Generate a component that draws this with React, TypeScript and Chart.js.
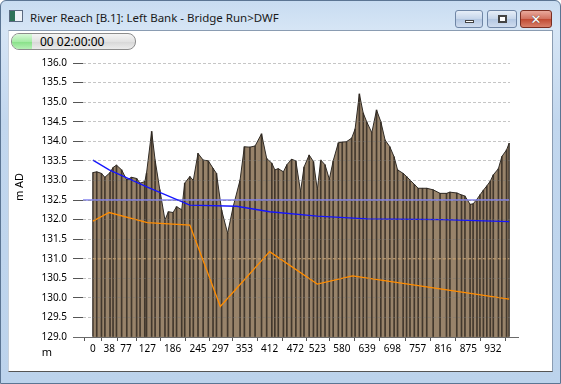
import React, { useEffect, useRef } from 'react';
import { Chart, registerables } from 'chart.js';
Chart.register(...registerables);

// Ground profile (chainage m, level m AD)
const profileChainage = [0, 9, 20, 28, 40, 47, 55, 67, 79, 90, 102, 110, 121, 125, 137, 145, 156, 168, 176, 187, 195, 207, 214, 226, 234, 245, 257, 269, 280, 288, 300, 314, 327, 343, 353, 366, 378, 393, 405, 417, 424, 432, 444, 452, 463, 473, 484, 492, 504, 514, 523, 531, 541, 551, 560, 572, 581, 591, 603, 611, 621, 630, 638, 650, 661, 671, 681, 692, 702, 710, 723, 731, 739, 749, 758, 768, 778, 793, 809, 824, 832, 848, 859, 867, 879, 886, 895, 902, 910, 918, 926, 933, 945, 953, 964, 970];
const profileLevel = [133.2, 133.22, 133.18, 133.08, 133.2, 133.33, 133.39, 133.27, 133.01, 133.08, 133.05, 132.93, 132.97, 133.18, 134.25, 133.52, 132.76, 131.99, 132.2, 132.18, 132.33, 132.25, 132.93, 133.1, 133.0, 133.69, 133.52, 133.5, 133.31, 133.18, 132.24, 131.65, 132.33, 133.01, 133.86, 133.85, 133.88, 134.19, 133.56, 133.44, 133.27, 133.3, 133.22, 133.4, 133.54, 133.5, 132.71, 133.34, 133.65, 133.48, 132.76, 133.52, 133.4, 133.03, 133.5, 133.96, 133.98, 133.99, 134.08, 134.31, 135.21, 134.72, 134.5, 134.22, 134.8, 134.5, 134.03, 133.86, 133.6, 133.27, 133.18, 133.1, 133.01, 132.9, 132.8, 132.8, 132.8, 132.76, 132.67, 132.67, 132.7, 132.68, 132.63, 132.6, 132.39, 132.4, 132.52, 132.63, 132.75, 132.86, 132.98, 133.14, 133.3, 133.61, 133.78, 133.95];

// Water level (blue)
const waterChainage = [0, 38, 127, 226, 335, 412, 523, 639, 816, 970];
const waterLevel = [133.52, 133.27, 132.83, 132.37, 132.34, 132.2, 132.09, 132.02, 132.0, 131.95];

// Bed / invert level (orange)
const bedChainage = [0, 38, 127, 226, 297, 412, 523, 605, 970];
const bedLevel = [131.96, 132.18, 131.92, 131.86, 129.78, 131.18, 130.35, 130.56, 129.97];

// Reference levels
const refBlueLevel = 132.5;
const refOrangeLevel = 131.0;
const refChainage = [0, 970];

const xTickValues = [0, 38, 77, 127, 186, 245, 297, 353, 412, 472, 523, 580, 639, 698, 757, 816, 875, 932];
const yMin = 129;
const yMax = 136;
const yStep = 0.5;
const xMin = -23;
const xMax = 972;

const FONT = "'Noto Sans', 'DejaVu Sans', sans-serif";

const pts = (xs: number[], ys: number[]) => xs.map((x, i) => ({ x, y: ys[i] }));

export default function App() {
  const ref = useRef<HTMLCanvasElement | null>(null);

  useEffect(() => {
    if (!ref.current) return;
    const extras = {
      id: 'extras',
      afterDraw(chart: any) {
        const { ctx, chartArea } = chart;
        ctx.save();
        ctx.strokeStyle = '#6a6a6a';
        ctx.lineWidth = 1;
        ctx.beginPath();
        const yb = Math.round(chartArea.bottom) + 0.5;
        ctx.moveTo(73, yb);
        ctx.lineTo(519, yb);
        ctx.stroke();
        ctx.fillStyle = '#000';
        ctx.font = `11px ${FONT}`;
        ctx.textAlign = 'center';
        ctx.textBaseline = 'middle';
        ctx.fillText('m', 47, 353);
        ctx.translate(20, 187);
        ctx.rotate(-Math.PI / 2);
        ctx.fillText('m AD', 0, 0);
        ctx.restore();
      },
    };
    const chart = new Chart(ref.current, {
      type: 'line',
      data: {
        datasets: [
          {
            type: 'line',
            data: pts(profileChainage, profileLevel),
            borderColor: '#2f2a24',
            borderWidth: 1,
            backgroundColor: '#98836a',
            fill: 'start',
            pointRadius: 0,
            tension: 0,
            order: 6,
          } as any,
          {
            type: 'bar',
            data: pts(profileChainage, profileLevel),
            backgroundColor: 'rgba(45,38,30,0.8)',
            barThickness: 1,
            base: yMin,
            order: 5,
          } as any,
          {
            type: 'line',
            data: [{ x: xMin, y: refBlueLevel }, { x: refChainage[1], y: refBlueLevel }],
            borderColor: '#8585ee',
            borderWidth: 1.5,
            pointRadius: 0,
            order: 3,
          } as any,
          {
            type: 'line',
            data: pts(refChainage, [refOrangeLevel, refOrangeLevel]),
            borderColor: '#f8bc6c',
            borderWidth: 1,
            borderDash: [3, 2],
            pointRadius: 0,
            order: 3,
          } as any,
          {
            type: 'line',
            data: pts(bedChainage, bedLevel),
            borderColor: '#ff8c00',
            borderWidth: 1.3,
            pointRadius: 0,
            tension: 0,
            order: 1,
          } as any,
          {
            type: 'line',
            data: pts(waterChainage, waterLevel),
            borderColor: '#1414ff',
            borderWidth: 1.3,
            pointRadius: 0,
            tension: 0,
            order: 0,
          } as any,
        ],
      },
      options: {
        animation: false,
        responsive: false,
        maintainAspectRatio: false,
        layout: { padding: { left: 0, right: 51, top: 63, bottom: 0 } },
        plugins: { legend: { display: false }, tooltip: { enabled: false } },
        scales: {
          x: {
            type: 'linear',
            min: xMin,
            max: xMax,
            offset: false,
            afterBuildTicks: (s: any) => {
              s.ticks = xTickValues.map((v) => ({ value: v }));
            },
            afterFit: (s: any) => {
              s.height = 47;
            },
            grid: { drawOnChartArea: false, drawTicks: true, tickLength: 4, tickColor: '#555', color: '#555' },
            border: { display: false },
            ticks: {
              autoSkip: false,
              maxRotation: 0,
              padding: 2,
              color: '#000',
              font: { family: FONT, size: 10 },
              callback: (v: any) => String(v),
            },
          },
          y: {
            min: yMin,
            max: yMax,
            afterFit: (s: any) => {
              s.width = 83;
            },
            ticks: {
              stepSize: yStep,
              padding: 6,
              color: '#000',
              font: { family: FONT, size: 10 },
              callback: (v: any) => Number(v).toFixed(1),
            },
            grid: { color: 'rgba(120,120,120,0.42)', tickColor: '#555', tickLength: 10, z: 1 },
            border: { display: false, dash: [3, 2] },
          },
        },
      } as any,
      plugins: [extras],
    });
    return () => chart.destroy();
  }, []);

  const btn = (left: number, width: number, bg: string, border: string): React.CSSProperties => ({
    position: 'absolute',
    left,
    top: 10,
    width,
    height: 18,
    boxSizing: 'border-box',
    borderRadius: 3,
    border: `1px solid ${border}`,
    background: bg,
  });

  return (
    <div style={{ position: 'absolute', left: 0, top: 0, width: 561, height: 384, overflow: 'hidden', fontFamily: FONT }}>
      <div
        style={{
          position: 'absolute',
          inset: 0,
          borderRadius: '6px 6px 0 0',
          border: '1px solid #5b7593',
          boxSizing: 'border-box',
          background: 'linear-gradient(#c8dcf1 0px, #d6e5f5 28px, #c2d7ee 120px, #bcd3ec 100%)',
        }}
      />
      <div
        style={{
          position: 'absolute',
          left: 9,
          top: 10,
          width: 14,
          height: 12,
          boxSizing: 'border-box',
          border: '1px solid #5a6a80',
          background: 'linear-gradient(90deg,#2f7358 0 45%, #eef3f8 45%)',
        }}
      />
      <div style={{ position: 'absolute', left: 30, top: 10, fontSize: 11.5, lineHeight: '16px', color: '#1a1a1a', whiteSpace: 'nowrap' }}>
        River Reach [B.1]: Left Bank - Bridge Run&gt;DWF
      </div>
      <div style={btn(455, 28, 'linear-gradient(#e6eef8, #c5d5ea 50%, #b3c7e2 51%, #cfdcee)', '#6f86a6')}>
        <div style={{ position: 'absolute', left: 9, top: 9, width: 9, height: 3, background: '#fff', border: '1px solid #444', boxSizing: 'border-box' }} />
      </div>
      <div style={btn(487, 30, 'linear-gradient(#e6eef8, #c5d5ea 50%, #b3c7e2 51%, #cfdcee)', '#6f86a6')}>
        <div style={{ position: 'absolute', left: 10, top: 4, width: 9, height: 8, border: '2px solid #444', background: '#fff', boxSizing: 'border-box' }} />
      </div>
      <div style={btn(520, 32, 'linear-gradient(#e9a99c, #d1715f 50%, #c04a33 51%, #d8806b)', '#7a2e22')}>
        <div style={{ position: 'absolute', left: 0, top: 0, width: 30, height: 16, color: '#fff', fontWeight: 'bold', fontSize: 13, lineHeight: '16px', textAlign: 'center', textShadow: '0 0 1px #333' }}>
          ✕
        </div>
      </div>
      <div
        style={{
          position: 'absolute',
          left: 8,
          top: 30,
          width: 545,
          height: 342,
          background: '#fff',
          borderTop: '1px solid #8a9cb2',
          borderLeft: '1px solid #c9d2dc',
          borderRight: '1px solid #8a9cb2',
          borderBottom: '1px solid #555',
          boxSizing: 'border-box',
        }}
      />
      <div
        style={{
          position: 'absolute',
          left: 11,
          top: 33,
          width: 125,
          height: 17,
          boxSizing: 'border-box',
          borderRadius: 8,
          border: '1px solid #8c8c8c',
          overflow: 'hidden',
          background: 'linear-gradient(#f4f4f4, #e2e2e2 50%, #d6d6d6 51%, #ececec)',
        }}
      >
        <div style={{ position: 'absolute', left: 0, top: 0, width: 20, height: 15, background: 'linear-gradient(#d8f8d8, #a6eca6 50%, #86e086 51%, #b6f0b6)' }} />
        <div style={{ position: 'absolute', left: 28, top: 0, fontSize: 12, lineHeight: '15px', color: '#000', whiteSpace: 'nowrap' }}>00 02:00:00</div>
      </div>
      <canvas ref={ref} width={561} height={384} style={{ position: 'absolute', left: 0, top: 0, width: 561, height: 384 }} />
    </div>
  );
}
